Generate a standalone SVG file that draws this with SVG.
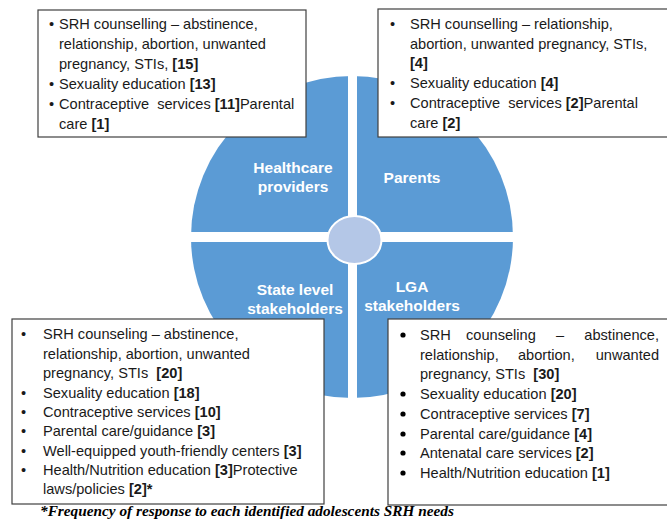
<svg xmlns="http://www.w3.org/2000/svg" width="667" height="519" viewBox="0 0 667 519">
<style>
.box{fill:#fff;stroke:#404040;stroke-width:1.2}
.t{font-family:"Liberation Sans",Arial,sans-serif;font-size:14.6px;fill:#1a1a1a;white-space:pre}
.b{font-weight:bold}
.lbl{font-family:"Liberation Sans",Arial,sans-serif;font-size:15.5px;font-weight:bold;fill:#fff;text-anchor:middle}
.cap{font-family:"Liberation Serif","Times New Roman",serif;font-size:15.3px;font-weight:bold;font-style:italic;fill:#000}
</style>
<g id="wheel">
<circle cx="352" cy="237" r="161" fill="#5B9BD5"/>
<rect x="348" y="70" width="9" height="340" fill="#fff"/>
<rect x="185" y="232" width="335" height="10" fill="#fff"/>
<ellipse cx="354.5" cy="240" rx="27" ry="24" fill="#B4C7E7" stroke="#fff" stroke-width="2"/>
</g>
<g id="healthcare-label"><text class="lbl" x="293" y="173">Healthcare</text><text class="lbl" x="293" y="192">providers</text></g>
<g id="parents-label"><text class="lbl" x="412" y="183">Parents</text></g>
<g id="state-label"><text class="lbl" x="295" y="295">State level</text><text class="lbl" x="295" y="314">stakeholders</text></g>
<g id="lga-label"><text class="lbl" x="412" y="292">LGA</text><text class="lbl" x="412" y="311">stakeholders</text></g>
<g id="connectors"></g>
<g id="box-healthcare">
<rect class="box" x="38" y="10" width="268" height="127"/>
<text class="t" x="49" y="29">•</text><text class="t" x="59" y="29">SRH counselling – abstinence,</text>
<text class="t" x="59" y="49">relationship, abortion, unwanted</text>
<text class="t" x="59" y="69">pregnancy, STIs, <tspan class="b">[15]</tspan></text>
<text class="t" x="49" y="89">•</text><text class="t" x="59" y="89">Sexuality education <tspan class="b">[13]</tspan></text>
<text class="t" x="49" y="109">•</text><text class="t" x="59" y="109">Contraceptive  services <tspan class="b">[11]</tspan>Parental</text>
<text class="t" x="59" y="129">care <tspan class="b">[1]</tspan></text>
</g>
<g id="box-parents">
<rect class="box" x="378" y="9" width="295" height="128"/>
<text class="t" x="390" y="29">•</text><text class="t" x="410" y="29">SRH counselling – relationship,</text>
<text class="t" x="410" y="49">abortion, unwanted pregnancy, STIs,</text>
<text class="t b" x="410" y="68">[4]</text>
<text class="t" x="390" y="88">•</text><text class="t" x="410" y="88">Sexuality education <tspan class="b">[4]</tspan></text>
<text class="t" x="390" y="108">•</text><text class="t" x="410" y="108">Contraceptive  services <tspan class="b">[2]</tspan>Parental</text>
<text class="t" x="410" y="128">care <tspan class="b">[2]</tspan></text>
</g>
<g id="box-state">
<rect class="box" x="12" y="319" width="312" height="185"/>
<text class="t" x="21" y="339">•</text><text class="t" x="43" y="339">SRH counseling – abstinence,</text>
<text class="t" x="43" y="359">relationship, abortion, unwanted</text>
<text class="t" x="43" y="378">pregnancy, STIs  <tspan class="b">[20]</tspan></text>
<text class="t" x="21" y="398">•</text><text class="t" x="43" y="398">Sexuality education <tspan class="b">[18]</tspan></text>
<text class="t" x="21" y="417">•</text><text class="t" x="43" y="417">Contraceptive services <tspan class="b">[10]</tspan></text>
<text class="t" x="21" y="436">•</text><text class="t" x="43" y="436">Parental care/guidance <tspan class="b">[3]</tspan></text>
<text class="t" x="21" y="456">•</text><text class="t" x="43" y="456">Well-equipped youth-friendly centers <tspan class="b">[3]</tspan></text>
<text class="t" x="21" y="475">•</text><text class="t" x="43" y="475">Health/Nutrition education <tspan class="b">[3]</tspan>Protective</text>
<text class="t" x="43" y="494">laws/policies <tspan class="b">[2]*</tspan></text>
</g>
<g id="box-lga">
<rect class="box" x="388" y="319" width="290" height="186"/>
<g fill="#000"><circle cx="403" cy="335" r="2.6"/><circle cx="403" cy="394" r="2.6"/><circle cx="403" cy="414" r="2.6"/><circle cx="403" cy="434" r="2.6"/><circle cx="403" cy="453" r="2.6"/><circle cx="403" cy="473" r="2.6"/></g>
<text class="t" x="420" y="340">SRH</text><text class="t" x="466" y="340">counseling</text><text class="t" x="556" y="340">–</text><text class="t" x="659" y="340" text-anchor="end">abstinence,</text>
<text class="t" x="420" y="360">relationship,</text><text class="t" x="518" y="360">abortion,</text><text class="t" x="659" y="360" text-anchor="end">unwanted</text>
<text class="t" x="420" y="379">pregnancy, STIs  <tspan class="b">[30]</tspan></text>
<text class="t" x="420" y="399">Sexuality education <tspan class="b">[20]</tspan></text>
<text class="t" x="420" y="419">Contraceptive services <tspan class="b">[7]</tspan></text>
<text class="t" x="420" y="439">Parental care/guidance <tspan class="b">[4]</tspan></text>
<text class="t" x="420" y="458">Antenatal care services <tspan class="b">[2]</tspan></text>
<text class="t" x="420" y="478">Health/Nutrition education <tspan class="b">[1]</tspan></text>
</g>
<text class="cap" x="40" y="516">*Frequency of response to each identified adolescents SRH needs</text>
</svg>
